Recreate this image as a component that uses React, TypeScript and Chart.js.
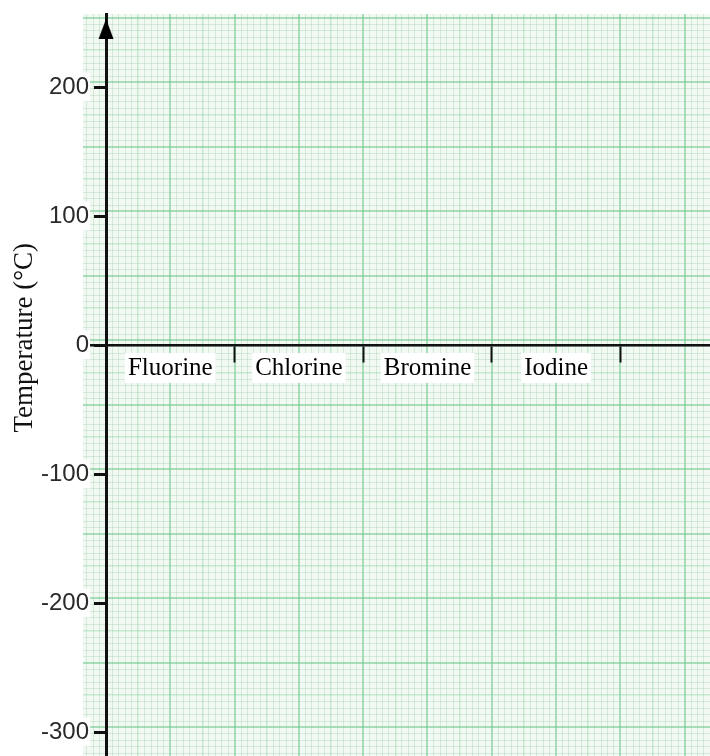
import React, { useEffect, useRef } from 'react';
import { Chart, registerables } from 'chart.js';

Chart.register(...registerables);

// ---- data ----
const categories = ['Fluorine', 'Chlorine', 'Bromine', 'Iodine'];
const categoryBoundaries = [0, 1, 2, 3, 4];
const temperatureTicks = [-300, -200, -100, 0, 100, 200];
const yTitle = 'Temperature (°C)';
const yMin = -318.6;
const yMax = 256.6;
const xMin = -0.179;
const xMax = 4.697;
const arrowTipValue = 245;
// graph paper rulings (in axis units)
const paperStepX = 0.05;
const paperOffsetX = 0;
const paperStepY = 5;
const paperOffsetY = 3.5;

const SERIF = '"Liberation Serif", "Times New Roman", serif';
const SANS = '"Liberation Sans", Arial, sans-serif';

const level = (value: number, step: number, offset: number) => {
  const k = Math.round((value - offset) / step);
  return k % 10 === 0 ? 2 : k % 5 === 0 ? 1 : 0;
};
const paperColor = [
  'rgba(150, 195, 165, 0.30)',
  'rgba(130, 205, 155, 0.38)',
  'rgba(115, 200, 145, 0.58)',
];
const paperWidth = [1, 1.5, 2];

const zeroPadding = (s: any) => {
  s.paddingLeft = 0;
  s.paddingRight = 0;
  s.paddingTop = 0;
  s.paddingBottom = 0;
};
const zeroBox = (s: any) => {
  zeroPadding(s);
  if (s.isHorizontal()) s.height = 0;
  else s.width = 0;
};

const rulingTicks = (step: number, offset: number) => (s: any) => {
  const t: any[] = [];
  for (let k = Math.ceil((s.min - offset) / step); k * step + offset <= s.max; k++) {
    t.push({ value: k * step + offset });
  }
  s.ticks = t;
};

export default function App() {
  const ref = useRef<HTMLCanvasElement | null>(null);

  useEffect(() => {
    if (!ref.current) return;
    const arrow = document.createElement('canvas');
    arrow.width = 16;
    arrow.height = 20;
    const actx = arrow.getContext('2d')!;
    actx.fillStyle = '#000';
    actx.beginPath();
    actx.moveTo(8, 0);
    actx.lineTo(15.5, 20);
    actx.lineTo(0.5, 20);
    actx.closePath();
    actx.fill();

    const paperPlugin = {
      id: 'paper',
      beforeDraw(chart: any) {
        const { ctx, chartArea: a } = chart;
        ctx.save();
        ctx.fillStyle = '#f1f9f2';
        ctx.fillRect(a.left, a.top, a.right - a.left, a.bottom - a.top);
        ctx.restore();
      },
    };

    const chart = new Chart(ref.current, {
      type: 'scatter',
      data: {
        datasets: [
          {
            data: [{ x: 0, y: arrowTipValue }],
            pointStyle: arrow as any,
            pointRadius: 10,
            showLine: false,
          },
        ],
      },
      options: {
        animation: false,
        responsive: false,
        maintainAspectRatio: false,
        devicePixelRatio: 1,
        layout: { autoPadding: false, padding: { top: 14, left: 0, right: 0, bottom: 0 } },
        plugins: { legend: { display: false }, tooltip: { enabled: false } },
        events: [],
        scales: {
          gx: {
            type: 'linear',
            axis: 'x',
            position: 'bottom',
            min: xMin,
            max: xMax,
            afterBuildTicks: rulingTicks(paperStepX, paperOffsetX),
            afterFit: zeroBox,
            ticks: { display: false },
            border: { display: false },
            grid: {
              z: -2,
              drawTicks: false,
              color: (c: any) => paperColor[c.tick ? level(c.tick.value, paperStepX, paperOffsetX) : 0],
              lineWidth: (c: any) => paperWidth[c.tick ? level(c.tick.value, paperStepX, paperOffsetX) : 0],
            },
          },
          gy: {
            type: 'linear',
            axis: 'y',
            position: 'left',
            min: yMin,
            max: yMax,
            afterBuildTicks: rulingTicks(paperStepY, paperOffsetY),
            afterFit: zeroBox,
            ticks: { display: false },
            border: { display: false },
            grid: {
              z: -2,
              drawTicks: false,
              color: (c: any) => paperColor[c.tick ? level(c.tick.value, paperStepY, paperOffsetY) : 0],
              lineWidth: (c: any) => paperWidth[c.tick ? level(c.tick.value, paperStepY, paperOffsetY) : 0],
            },
          },
          yLab: {
            type: 'linear',
            axis: 'y',
            position: 'left',
            min: yMin,
            max: yMax,
            afterBuildTicks: (s: any) => { s.ticks = temperatureTicks.map((v) => ({ value: v })); },
            afterFit: (s: any) => { zeroPadding(s); s.width = 83; },
            grid: { display: false, drawTicks: false },
            border: { display: false },
            ticks: {
              z: 1,
              mirror: true,
              crossAlign: 'far',
              padding: -42,
              autoSkip: false,
              color: '#2a2a2a',
              font: { family: SANS, size: 24 },
              showLabelBackdrop: true,
              backdropColor: '#ffffff',
              backdropPadding: { left: 2, right: 1, top: 0, bottom: 0 },
              callback: (v: any) => String(v),
            },
            title: {
              display: true,
              text: '\u2003\u2003\u2003  ' + yTitle,
              color: '#111',
              font: { family: SERIF, size: 27 },
              padding: { top: 9, bottom: 0 },
            },
          },
          x: {
            type: 'linear',
            axis: 'x',
            position: { y: 0 } as any,
            min: xMin,
            max: xMax,
            afterBuildTicks: (s: any) => { s.ticks = categoryBoundaries.map((v) => ({ value: v })); },
            afterFit: zeroBox,
            ticks: { display: false },
            border: { display: true, color: '#111', width: 2.5, z: 0 },
            grid: {
              drawOnChartArea: false,
              drawTicks: true,
              tickLength: 16,
              tickColor: '#111',
              tickWidth: 2,
            },
          },
          xLab: {
            type: 'linear',
            axis: 'x',
            position: { y: 0 } as any,
            min: xMin,
            max: xMax,
            afterBuildTicks: (s: any) => { s.ticks = categories.map((_, i) => ({ value: i + 0.5 })); },
            afterFit: zeroBox,
            grid: { display: false, drawTicks: false },
            border: { display: false },
            ticks: {
              z: 1,
              padding: 8,
              autoSkip: false,
              minRotation: 0,
              maxRotation: 0,
              color: '#000',
              font: { family: SERIF, size: 25 },
              showLabelBackdrop: true,
              backdropColor: '#ffffff',
              backdropPadding: { left: 3, right: 3, top: 0, bottom: 0 },
              callback: (_v: any, i: number) => categories[i],
            },
          },
          y: {
            type: 'linear',
            axis: 'y',
            position: { x: 0 } as any,
            min: yMin,
            max: yMax,
            afterBuildTicks: (s: any) => { s.ticks = temperatureTicks.map((v) => ({ value: v })); },
            afterFit: zeroBox,
            ticks: { display: false },
            border: { display: true, color: '#111', width: 3, z: 0 },
            grid: {
              drawOnChartArea: false,
              drawTicks: true,
              tickLength: 11,
              tickColor: '#111',
              tickWidth: 3,
            },
          },
        } as any,
      },
      plugins: [paperPlugin],
    });
    return () => chart.destroy();
  }, []);

  return (
    <div style={{ position: 'absolute', left: 0, top: 0, width: 710, height: 756 }}>
      <canvas ref={ref} width={710} height={756} style={{ display: 'block', width: 710, height: 756 }} />
    </div>
  );
}
